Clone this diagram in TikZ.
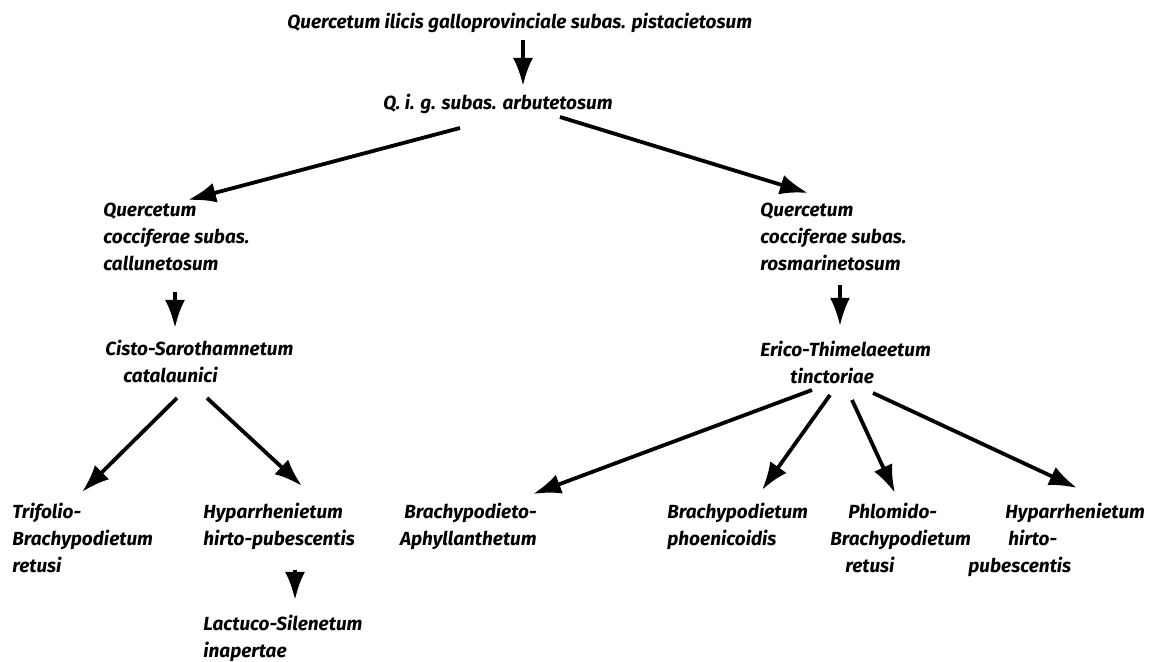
\documentclass[tikz,border=0pt]{standalone}
\usepackage{fontspec}
\setmainfont{Fira Sans}
\usetikzlibrary{arrows.meta}
\tikzset{
  syn/.style={inner sep=0pt, anchor=north west, align=left,
    font=\fontsize{9.5}{13.4}\selectfont\bfseries\itshape},
  arr/.style={-{Latex[length=14pt,width=10pt]}, line width=1.9pt}
}
\begin{document}
\begin{tikzpicture}[x=0.5pt,y=-0.5pt]
  \useasboundingbox (0,0) rectangle (1152,662);
  % top of the scheme
  \node[syn] (pist) at (287,13) {Quercetum ilicis galloprovinciale subas. pistacietosum};
  \node[syn] (arbu) at (383,94) {Q. i. g. subas. arbutetosum};
  % left branch
  \node[syn] (call) at (103,203) {Quercetum\\cocciferae subas.\\callunetosum};
  \node[syn] (cist) at (105,340) {Cisto-Sarothamnetum\\\hspace*{9pt}catalaunici};
  \node[syn] (trif) at (12,503) {Trifolio-\\Brachypodietum\\retusi};
  \node[syn] (hyp1) at (203,503) {Hyparrhenietum\\hirto-pubescentis};
  \node[syn] (lact) at (203,615) {Lactuco-Silenetum\\inapertae};
  % right branch
  \node[syn] (rosm) at (760,203) {Quercetum\\cocciferae subas.\\rosmarinetosum};
  \node[syn] (eric) at (760,341) {Erico-Thimelaeetum\\\hspace*{15pt}tinctoriae};
  \node[syn, anchor=north east, align=right] (aphy) at (537,503) {Brachypodieto-\\Aphyllanthetum};
  \node[syn] (phoe) at (667,503) {Brachypodietum\\phoenicoidis};
  \node[syn] (phlo) at (830,503) {\hspace*{9pt}Phlomido-\\Brachypodietum\\\hspace*{7.5pt}retusi};
  \node[syn] (hyp2) at (968,503) {\hspace*{18.5pt}Hyparrhenietum\\\hspace*{20pt}hirto-\\pubescentis};

  \draw[arr] ([shift={(236,27)}]pist.north west) -- ([shift={(140,-8)}]arbu.north west);
  \draw[arr] ([shift={(77,34)}]arbu.north west) -- ([shift={(85,-3)}]call.north west);
  \draw[arr] ([shift={(177,23)}]arbu.north west) -- ([shift={(48,-10)}]rosm.north west);
  \draw[arr] ([shift={(72,89)}]call.north west) -- ([shift={(70,-12)}]cist.north west);
  \draw[arr] ([shift={(80,82)}]rosm.north west) -- ([shift={(80,-15)}]eric.north west);
  \draw[arr] ([shift={(72,58)}]cist.north west) -- ([shift={(70,-11)}]trif.north west);
  \draw[arr] ([shift={(102,58)}]cist.north west) -- ([shift={(99,-17)}]hyp1.north west);
  \draw[arr] ([shift={(92,67)}]hyp1.north west) -- ([shift={(92,-15)}]lact.north west);
  \draw[arr] ([shift={(52,49)}]eric.north west) -- ([shift={(-4,-9)}]aphy.north east);
  \draw[arr] ([shift={(70,54)}]eric.north west) -- ([shift={(95,-13)}]phoe.north west);
  \draw[arr] ([shift={(92,59)}]eric.north west) -- ([shift={(65,-10)}]phlo.north west);
  \draw[arr] ([shift={(113,52)}]eric.north west) -- ([shift={(109,-15)}]hyp2.north west);
\end{tikzpicture}
\end{document}
